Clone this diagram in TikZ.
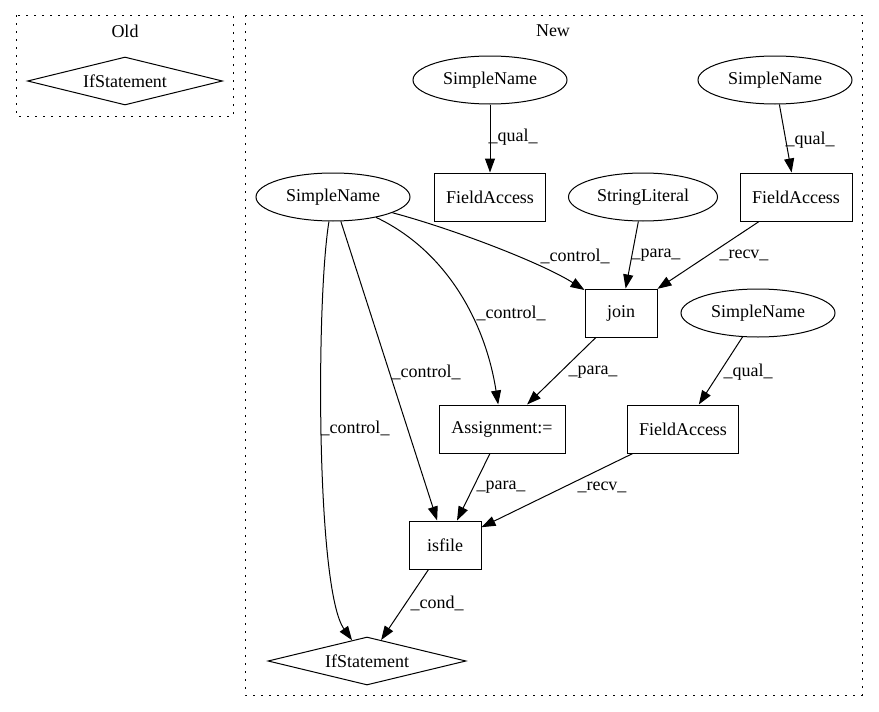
\documentclass[tikz,border=0pt]{standalone}
\usepackage{fontspec}
\setmainfont{Liberation Serif}
\usetikzlibrary{shapes.geometric,arrows.meta}

\tikzset{
	nameell/.style={draw, ellipse, minimum width=154pt, minimum height=48pt, inner sep=0pt},
	astbox/.style={draw, rectangle, minimum height=48pt, inner sep=0pt},
	condnode/.style={draw, diamond, aspect=4, minimum height=48pt, inner sep=0pt},
	edge/.style={-{Triangle[length=14pt,width=10pt]}},
	cluster/.style={dash pattern=on 1.6pt off 6.4pt},
}

\begin{document}
\begin{tikzpicture}[x=1pt, y=-1pt, line width=1pt, font=\fontsize{18}{20}\selectfont]
		\useasboundingbox (0, 0) rectangle (879, 712);
		
		% clusters
		\draw[cluster] (16, 15) rectangle (233, 116);
		\draw[cluster] (245, 15) rectangle (862, 695);
		\node (oldlbl) at (125, 31) {Old};
		\node (newlbl) at (553, 31) {New};
		
		\node[condnode, minimum width=195pt] (oldif) at (125, 81) {IfStatement};
		
		% nodes
		\node[nameell] (snA) at (490, 80) {SimpleName};
		\node[nameell] (snB) at (775, 80) {SimpleName};
		\node[nameell] (snL) at (333, 197) {SimpleName};
		\node[astbox, minimum width=111pt] (faA) at (490, 197) {FieldAccess};
		\node[nameell, minimum width=149pt] (strlit) at (643, 197) {StringLiteral};
		\node[astbox, minimum width=112pt] (faB) at (796, 197) {FieldAccess};
		\node[astbox, minimum width=72pt] (join) at (621, 313) {join};
		\node[nameell] (snC) at (758, 313) {SimpleName};
		\node[astbox, minimum width=126pt] (assign) at (502, 429) {Assignment:=};
		\node[astbox, minimum width=111pt] (faC) at (683, 429) {FieldAccess};
		\node[astbox, minimum width=72pt] (isfile) at (445, 545) {isfile};
		\node[condnode, minimum width=198pt] (newif) at (367, 661) {IfStatement};
		
		% edges
		\draw[edge] (snA) -- (faA);
		\draw[edge] (snB) -- (faB);
		\draw[edge] (snL) .. controls (450, 228) and (540, 262) .. (join);
		\draw[edge] (strlit) -- (join);
		\draw[edge] (faB) -- (join);
		\draw[edge] (snL) .. controls (445, 250) and (485, 320) .. (assign);
		\draw[edge] (join) -- (assign);
		\draw[edge] (snC) -- (faC);
		\draw[edge] (snL) -- (isfile);
		\draw[edge] (snL) .. controls (316, 300) and (316, 590) .. (newif);
		\draw[edge] (assign) -- (isfile);
		\draw[edge] (faC) -- (isfile);
		\draw[edge] (isfile) -- (newif);
		
		% edge labels
		\node (lqualA) at (513, 137) {\_qual\_};
		\node (lqualB) at (810, 140) {\_qual\_};
		\node (lctrlJ) at (575, 256) {\_control\_};
		\node (lparaJ) at (656, 255) {\_para\_};
		\node (lrecvJ) at (744, 255) {\_recv\_};
		\node (lctrlA) at (511, 313) {\_control\_};
		\node (lparaA) at (593, 372) {\_para\_};
		\node (lqualC) at (748, 372) {\_qual\_};
		\node (lctrlI) at (426, 372) {\_control\_};
		\node (lctrlF) at (355, 428) {\_control\_};
		\node (lparaI) at (501, 487) {\_para\_};
		\node (lrecvI) at (602, 487) {\_recv\_};
		\node (lcond) at (437, 603) {\_cond\_};
	\end{tikzpicture}
\end{document}
